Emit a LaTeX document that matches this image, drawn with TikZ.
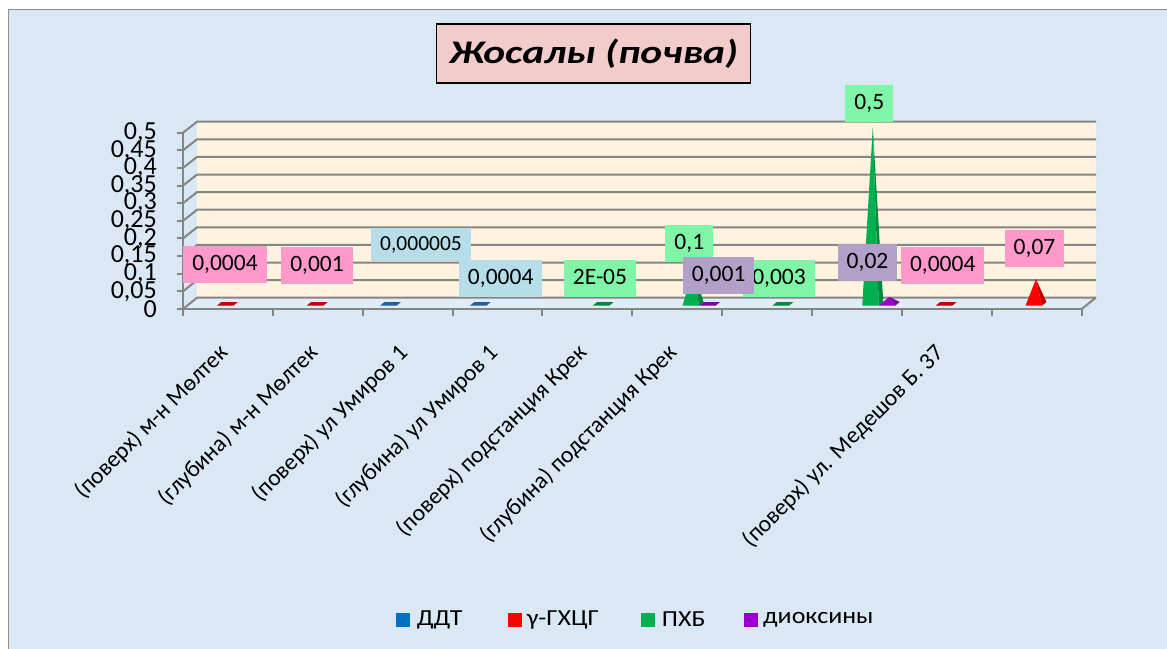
\documentclass[tikz,border=0pt]{standalone}
\usepackage{fontspec}
\setmainfont{Carlito}
\definecolor{bgc}{HTML}{DAE7F5}
\definecolor{framec}{HTML}{8E8E8E}
\definecolor{wallc}{HTML}{FEF3DE}
\definecolor{floorc}{HTML}{E0ECF8}
\definecolor{gridc}{HTML}{858585}
\definecolor{titlec}{HTML}{F2CBCB}
\definecolor{lpink}{HTML}{FF99CC}
\definecolor{lblue}{HTML}{B7DEE8}
\definecolor{lgreen}{HTML}{80F5A8}
\definecolor{lpurple}{HTML}{B1A0C7}
\definecolor{sblue}{HTML}{0070C0}
\definecolor{sred}{HTML}{FF0000}
\definecolor{sgreen}{HTML}{00B050}
\definecolor{spurple}{HTML}{9900CC}
\definecolor{dblue}{HTML}{1F5F9F}
\definecolor{dred}{HTML}{C00000}
\definecolor{dgreen}{HTML}{00893E}
\definecolor{dpurple}{HTML}{7A00A8}
\newcommand{\pyrbar}[5]{%
  \pgfmathsetmacro{\xl}{183+(#1-1)*89.85+17.3+16.5*#2}%
  \pgfmathsetmacro{\xr}{\xl+16.5}%
  \pgfmathsetmacro{\ax}{\xl+10.5}%
  \pgfmathsetmacro{\ay}{303.85-#3*352.6}%
  \fill[#5] (\xr,305.7) -- (\xr+4.5,302) -- (\ax,\ay) -- cycle;
  \fill[#4] (\xl,305.7) -- (\xr,305.7) -- (\ax,\ay) -- cycle;
}
\newcommand{\flatbar}[3]{%
  \pgfmathsetmacro{\xl}{183+(#1-1)*89.85+17.3+16.5*#2}%
  \fill[#3] (\xl,305.7) -- (\xl+16.5,305.7) -- (\xl+21,302) -- (\xl+4.5,302) -- cycle;
}
\newcommand{\wide}[2]{\scalebox{#1}[1]{#2}}
\begin{document}
\begin{tikzpicture}[x=1pt,y=-1pt,
  dlabel/.style={inner xsep=9pt, inner ysep=0pt, minimum height=37pt,
     text height=16pt, text depth=4pt, font=\fontsize{23.5}{26}\selectfont},
  ylab/.style={anchor=east, inner sep=0pt, font=\fontsize{26}{28}\selectfont},
  catlab/.style={anchor=base east, rotate=45, inner sep=0pt, font=\fontsize{23.5}{26}\selectfont},
  legtext/.style={anchor=west, inner sep=0pt, font=\fontsize{23}{25}\selectfont},
  gridline/.style={draw=gridc, line width=2pt},
  axisline/.style={draw=gridc, line width=2pt}]
\useasboundingbox (0,0) rectangle (1167,648);
\fill[white] (0,0) rectangle (1167,648);
\fill[bgc] (8.3,9.3) rectangle (1180,660);
\draw[framec, line width=1.5pt] (8.3,660) -- (8.3,9.3) -- (1180,9.3);
% title
\node[draw=black, line width=1.5pt, fill=titlec, minimum width=314pt, minimum height=59pt,
  font=\fontsize{33}{36}\selectfont\bfseries\itshape] (title) at (593.7,53.7) {\wide{1.26}{Жосалы (почва)}};
% back wall
\fill[wallc] (197,121.7) rectangle (1096,297.7);
% floor
\fill[floorc] (183,309) -- (1081.7,309) -- (1095.7,297.7) -- (197,297.7) -- cycle;
\draw[gridline] (1081.7,309) -- (1095.7,297.7);
% gridlines
\foreach \k in {0,...,10}{
  \draw[gridline] (183,309-\k*17.63) -- (197,297.7-\k*17.6) -- (1096,297.7-\k*17.6);
  \draw[axisline] (177,309-\k*17.63) -- (183,309-\k*17.63);
}
\draw[axisline] (183,309) -- (183,132.7);
\draw[axisline] (183,309) -- (1081.7,309);
\foreach \k in {0,...,10}{
  \draw[axisline] (183+\k*89.85,309) -- (183+\k*89.85,316);
}
% y labels
\node[ylab] (y0) at (157,309) {0};
\node[ylab] (y1) at (157,291.4) {0,05};
\node[ylab] (y2) at (157,273.7) {0,1};
\node[ylab] (y3) at (157,256.1) {0,15};
\node[ylab] (y4) at (157,238.5) {0,2};
\node[ylab] (y5) at (157,220.9) {0,25};
\node[ylab] (y6) at (157,203.2) {0,3};
\node[ylab] (y7) at (157,185.6) {0,35};
\node[ylab] (y8) at (157,168) {0,4};
\node[ylab] (y9) at (157,150.3) {0,45};
\node[ylab] (y10) at (157,132.7) {0,5};
% category labels
\node[catlab] (c1) at (229,354) {(поверх) м-н Мөлтек};
\node[catlab] (c2) at (319,354) {(глубина) м-н Мөлтек};
\node[catlab] (c3) at (409,354) {(поверх) ул Умиров 1};
\node[catlab] (c4) at (499,354) {(глубина) ул Умиров 1};
\node[catlab] (c5) at (588,354) {(поверх) подстанция Крек};
\node[catlab] (c6) at (678,354) {(глубина) подстанция Крек};
\node[catlab] (c9) at (945,354) {(поверх) ул. Медешов Б. 37};
% bars
\flatbar{1}{1}{dred}
\flatbar{2}{1}{dred}
\flatbar{3}{0}{dblue}
\flatbar{4}{0}{dblue}
\flatbar{5}{2}{dgreen}
\pyrbar{6}{2}{0.1}{sgreen}{dgreen}
\flatbar{6}{3}{dpurple}
\flatbar{7}{2}{dgreen}
\pyrbar{8}{2}{0.5}{sgreen}{dgreen}
\pyrbar{8}{3}{0.02}{spurple}{dpurple}
\flatbar{9}{1}{dred}
\pyrbar{10}{1}{0.07}{sred}{dred}
% data labels
\node[dlabel, fill=lblue, minimum height=33pt, font=\fontsize{21.5}{24}\selectfont] (l3) at (421,244) {0,000005};
\node[dlabel, fill=lblue] (l4) at (500.7,278.7) {0,0004};
\node[dlabel, fill=lpink] (l1) at (225,264.7) {0,0004};
\node[dlabel, fill=lpink] (l2) at (317,265) {0,001};
\node[dlabel, fill=lpink] (l9) at (942.7,265) {0,0004};
\node[dlabel, fill=lpink] (l10) at (1034.5,248) {0,07};
\node[dlabel, fill=lgreen] (l5) at (600,278.7) {2E-05};
\node[dlabel, fill=lgreen] (l6g) at (689.3,243.8) {0,1};
\node[dlabel, fill=lgreen] (l7) at (779,278) {0,003};
\node[dlabel, fill=lgreen] (l8g) at (869.3,103) {0,5};
\node[dlabel, fill=lpurple] (l6p) at (718.7,275) {0,001};
\node[dlabel, fill=lpurple] (l8p) at (867.5,262) {0,02};
% legend
\fill[sblue] (395.5,612.5) rectangle (409.5,626.5);
\node[legtext] (t1) at (416.7,619.5) {\wide{1.13}{ДДТ}};
\fill[sred] (507.7,612.5) rectangle (521.7,626.5);
\node[legtext] (t2) at (526.7,619.5) {\wide{1.13}{γ-ГХЦГ}};
\fill[sgreen] (640.5,612.5) rectangle (654.5,626.5);
\node[legtext] (t3) at (661.7,619.5) {\wide{1.13}{ПХБ}};
\fill[spurple] (743.5,612.5) rectangle (757.5,626.5);
\node[legtext] (t4) at (763,619.5) {\wide{1.13}{диоксины}};
\end{tikzpicture}
\end{document}
